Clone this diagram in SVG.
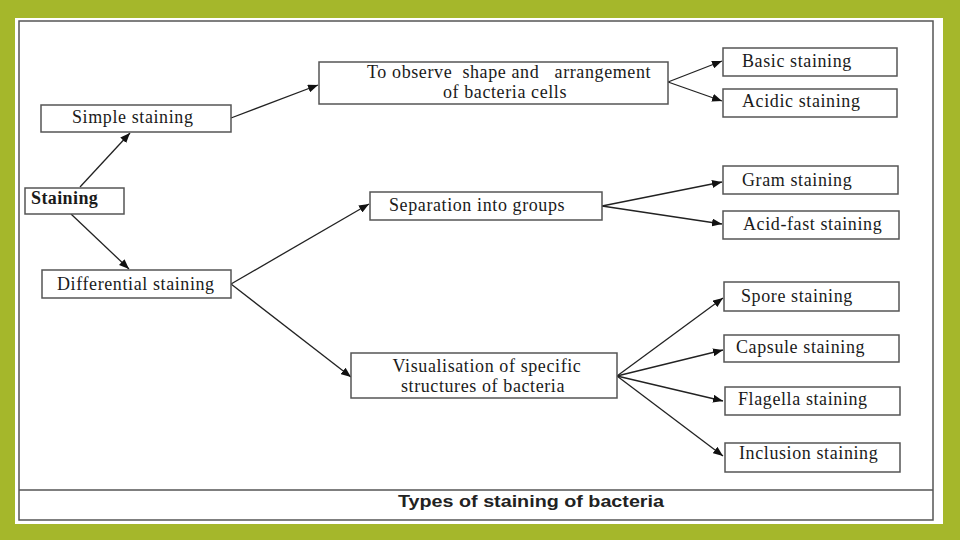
<svg xmlns="http://www.w3.org/2000/svg" width="960" height="540" viewBox="0 0 960 540">
<defs>
<style>
.box{fill:#fff;stroke:#555;stroke-width:1.5}
.t{font-family:"Liberation Serif","Times New Roman",serif;font-size:18px;fill:#1a1a1a;letter-spacing:0.6px}
.b{font-weight:bold;letter-spacing:0.4px}
.c{stroke:#222;stroke-width:1.3;fill:none;marker-end:url(#ah)}
</style>
<marker id="ah" markerUnits="userSpaceOnUse" markerWidth="10" markerHeight="8" refX="10" refY="4" orient="auto">
<path d="M0,0 L10,4 L0,8 z" fill="#111"/>
</marker>
</defs>
<rect x="0" y="0" width="960" height="540" fill="#a5b72b"/>
<rect x="15" y="18" width="928" height="506" fill="#fff"/>
<rect x="19" y="21" width="914" height="499" fill="none" stroke="#555" stroke-width="1.5"/>
<line x1="19" y1="490" x2="933" y2="490" stroke="#555" stroke-width="1.5"/>
<text x="531" y="507" text-anchor="middle" font-family="'Liberation Sans',Arial,sans-serif" font-weight="bold" font-size="16" fill="#222" textLength="266" lengthAdjust="spacingAndGlyphs">Types of staining of bacteria</text>

<g id="connectors">
<line class="c" x1="80" y1="187" x2="130" y2="133"/>
<line class="c" x1="71" y1="214" x2="129" y2="269"/>
<line class="c" x1="231" y1="118" x2="318" y2="85"/>
<line class="c" x1="231" y1="284" x2="369" y2="204"/>
<line class="c" x1="231" y1="284" x2="351" y2="377"/>
<line class="c" x1="668" y1="82" x2="722" y2="61"/>
<line class="c" x1="668" y1="82" x2="722" y2="101"/>
<line class="c" x1="602" y1="206" x2="722" y2="182"/>
<line class="c" x1="602" y1="206" x2="722" y2="224"/>
<line class="c" x1="617" y1="376" x2="723" y2="298"/>
<line class="c" x1="617" y1="376" x2="723" y2="350"/>
<line class="c" x1="617" y1="376" x2="723" y2="401"/>
<line class="c" x1="617" y1="376" x2="723" y2="456"/>
</g>

<g id="staining">
<rect class="box" x="25" y="188" width="99" height="26"/>
<text class="t b" x="31" y="204">Staining</text>
</g>
<g id="simple">
<rect class="box" x="41" y="105" width="190" height="27"/>
<text class="t" x="72" y="123">Simple staining</text>
</g>
<g id="differential">
<rect class="box" x="42" y="270" width="189" height="28"/>
<text class="t" x="57" y="290">Differential staining</text>
</g>
<g id="observe">
<rect class="box" x="319" y="62" width="349" height="42"/>
<text class="t" x="367" y="78" xml:space="preserve">To observe  shape and   arrangement</text>
<text class="t" x="505" y="98" text-anchor="middle">of bacteria cells</text>
</g>
<g id="separation">
<rect class="box" x="370" y="192" width="232" height="28"/>
<text class="t" x="389" y="211">Separation into groups</text>
</g>
<g id="visualisation">
<rect class="box" x="351" y="353" width="266" height="45"/>
<text class="t" x="487" y="372" text-anchor="middle">Visualisation of specific</text>
<text class="t" x="483" y="392" text-anchor="middle">structures of bacteria</text>
</g>
<g id="basic">
<rect class="box" x="723" y="48" width="174" height="28"/>
<text class="t" x="742" y="67">Basic staining</text>
</g>
<g id="acidic">
<rect class="box" x="723" y="89" width="174" height="28"/>
<text class="t" x="742" y="107">Acidic staining</text>
</g>
<g id="gram">
<rect class="box" x="723" y="166" width="175" height="28"/>
<text class="t" x="742" y="186">Gram staining</text>
</g>
<g id="acidfast">
<rect class="box" x="723" y="211" width="176" height="28"/>
<text class="t" x="743" y="230">Acid-fast staining</text>
</g>
<g id="spore">
<rect class="box" x="724" y="282" width="175" height="29"/>
<text class="t" x="741" y="302">Spore staining</text>
</g>
<g id="capsule">
<rect class="box" x="724" y="335" width="175" height="27"/>
<text class="t" x="736" y="353">Capsule staining</text>
</g>
<g id="flagella">
<rect class="box" x="725" y="387" width="175" height="28"/>
<text class="t" x="738" y="405">Flagella staining</text>
</g>
<g id="inclusion">
<rect class="box" x="725" y="443" width="175" height="29"/>
<text class="t" x="739" y="459">Inclusion staining</text>
</g>
</svg>
